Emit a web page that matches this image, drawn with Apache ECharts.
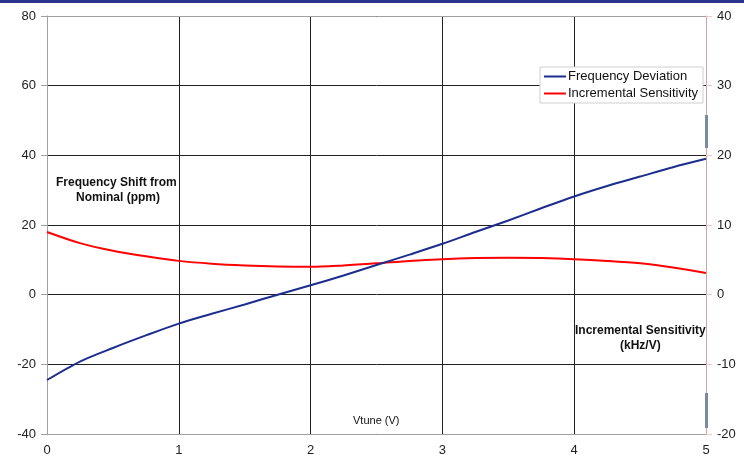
<!DOCTYPE html>
<html>
<head>
<meta charset="utf-8">
<script src="https://cdn.jsdelivr.net/npm/echarts@6/dist/echarts.min.js"></script>
<style>
html,body{margin:0;padding:0;background:#fff;}
#chart{width:744px;height:459px;}
</style>
</head>
<body>
<div id="chart"></div>
<script>
// Tuning voltage (V)
const vtune = [0, 0.25, 0.5, 0.75, 1, 1.25, 1.5, 1.75, 2, 2.25, 2.5, 2.75, 3, 3.25, 3.5, 3.75, 4, 4.25, 4.5, 4.75, 5];
// Frequency deviation from nominal (ppm)
const freqDeviation = [-24.5, -19.2, -15.3, -11.7, -8.3, -5.5, -2.8, 0, 2.7, 5.5, 8.5, 11.5, 14.6, 18, 21.3, 24.8, 28.2, 31.2, 33.9, 36.6, 39];
// Incremental sensitivity (kHz/V)
const incSensitivity = [9.0, 7.4, 6.3, 5.5, 4.85, 4.45, 4.2, 4.05, 4.0, 4.2, 4.5, 4.85, 5.1, 5.25, 5.3, 5.25, 5.1, 4.85, 4.5, 3.9, 3.1];

const seriesNames = ['Frequency Deviation', 'Incremental Sensitivity'];

const chart = echarts.init(document.getElementById('chart'));
const font = 'Liberation Sans, Arial, sans-serif';
const gridBlack = '#222';
const frameGray = '#a0a0a0';
const framePink = '#d4a5a5';

chart.setOption({
  animation: false,
  backgroundColor: '#fff',
  grid: { left: 47, right: 38, top: 16, bottom: 25 },
  legend: {
    data: seriesNames,
    orient: 'vertical',
    right: 41,
    top: 67,
    itemGap: 4,
    itemWidth: 22,
    itemHeight: 2,
    icon: 'rect',
    padding: [3, 5, 3, 4],
    backgroundColor: '#fff',
    borderColor: '#cfcfcf',
    borderWidth: 1,
    borderRadius: 0,
    textStyle: { fontFamily: font, fontSize: 13, color: '#111', padding: [0, 0, 0, -3] }
  },
  xAxis: [
    {
      type: 'value',
      min: 0, max: 5, interval: 1,
      z: 1,
      axisLine: { show: true, onZero: false, lineStyle: { color: frameGray, width: 1 } },
      axisTick: { show: false },
      axisLabel: { fontFamily: font, fontSize: 13, color: '#222', margin: 10 },
      splitLine: { show: true, lineStyle: { color: gridBlack, width: 1 } }
    },
    {
      type: 'value',
      position: 'top',
      min: 0, max: 5, interval: 1,
      z: 1,
      axisLine: { show: true, onZero: false, lineStyle: { color: frameGray, width: 1 } },
      axisTick: { show: false },
      axisLabel: { show: false },
      splitLine: { show: false }
    }
  ],
  yAxis: [
    {
      type: 'value',
      min: -40, max: 80, interval: 20,
      z: 1,
      axisLine: { show: true, onZero: false, lineStyle: { color: frameGray, width: 1 } },
      axisTick: { show: true, inside: false, length: 6, lineStyle: { color: frameGray } },
      axisLabel: { fontFamily: font, fontSize: 13, color: '#222', margin: 11 },
      splitLine: { show: true, lineStyle: { color: gridBlack, width: 1 } }
    },
    {
      type: 'value',
      min: -20, max: 40, interval: 10,
      position: 'right',
      z: 1,
      axisLine: { show: true, onZero: false, lineStyle: { color: framePink, width: 1 } },
      axisTick: { show: true, inside: false, length: 6, lineStyle: { color: '#f0c8c8' } },
      axisLabel: { fontFamily: font, fontSize: 13, color: '#222', margin: 11 },
      splitLine: { show: false }
    }
  ],
  series: [
    {
      name: seriesNames[0],
      type: 'line',
      yAxisIndex: 0,
      data: vtune.map((v, i) => [v, freqDeviation[i]]),
      smooth: 0.3,
      symbol: 'none',
      color: '#1c2d8e',
      lineStyle: { color: '#1c2d8e', width: 2 },
      z: 3
    },
    {
      name: seriesNames[1],
      type: 'line',
      yAxisIndex: 1,
      data: vtune.map((v, i) => [v, incSensitivity[i]]),
      smooth: 0.3,
      symbol: 'none',
      color: '#ff0000',
      lineStyle: { color: '#ff0000', width: 2 },
      z: 2
    }
  ],
  graphic: [
    { type: 'rect', left: 0, top: 0, shape: { width: 744, height: 3 }, style: { fill: '#2b3590' } },
    { type: 'rect', left: 705, top: 115, shape: { width: 3, height: 33 }, style: { fill: '#7a8ba0' }, z: 10 },
    { type: 'rect', left: 705, top: 393, shape: { width: 3, height: 35 }, style: { fill: '#7a8ba0' }, z: 10 },
    {
      type: 'text', left: 56, top: 177,
      style: { text: 'Frequency Shift from', fontFamily: font, fontSize: 12, fontWeight: 'bold', fill: '#111' }
    },
    {
      type: 'text', left: 76, top: 192,
      style: { text: 'Nominal (ppm)', fontFamily: font, fontSize: 12, fontWeight: 'bold', fill: '#111' }
    },
    {
      type: 'text', left: 575, top: 325,
      style: { text: 'Incremental Sensitivity', fontFamily: font, fontSize: 12, fontWeight: 'bold', fill: '#111' }
    },
    {
      type: 'text', left: 620, top: 340,
      style: { text: '(kHz/V)', fontFamily: font, fontSize: 12, fontWeight: 'bold', fill: '#111' }
    },
    {
      type: 'text', left: 353, top: 415,
      style: { text: 'Vtune (V)', fontFamily: font, fontSize: 11, fill: '#111' }
    }
  ]
});
</script>
</body>
</html>
